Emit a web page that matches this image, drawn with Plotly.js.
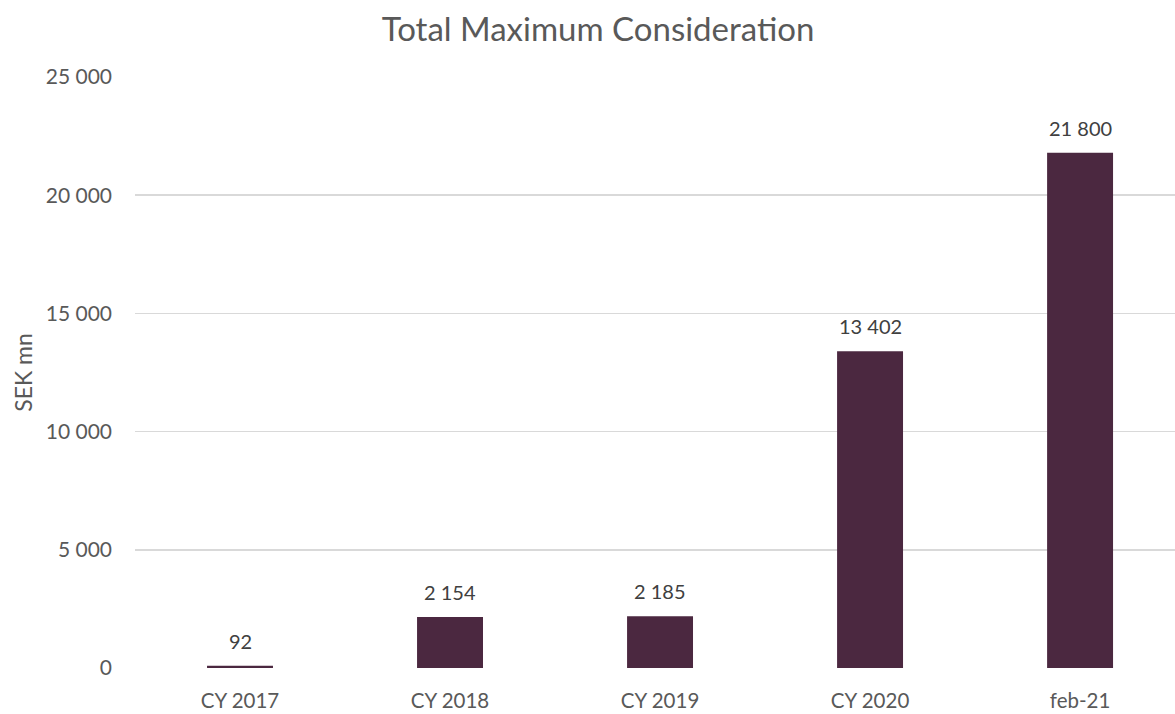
<!DOCTYPE html>
<html>
<head>
<meta charset="utf-8">
<script src="https://cdn.plot.ly/plotly-3.0.1.min.js"></script>
<style>html,body{margin:0;padding:0;background:#fff;}#chart{width:1175px;height:714px;}</style>
</head>
<body>
<div id="chart"></div>
<script>
const categories = ["CY 2017", "CY 2018", "CY 2019", "CY 2020", "feb-21"];
const values = [92, 2154, 2185, 13402, 21800];
const yTicks = [0, 5000, 10000, 15000, 20000, 25000];

function fmt(v) {
  return String(v).replace(/\B(?=(\d{3})+(?!\d))/g, " ");
}

const FONT = "Lato, 'Open Sans', sans-serif";

const trace = {
  type: "bar",
  x: categories,
  y: values,
  marker: { color: "#4B2840" },
  hoverinfo: "none"
};

const annotations = categories.map((c, i) => ({
  x: c, y: values[i], xref: "x", yref: "y",
  text: fmt(values[i]), showarrow: false,
  yanchor: "bottom", yshift: 11,
  font: { family: FONT, size: 20, color: "#404040" }
}));

const layout = {
  width: 1175, height: 714,
  margin: { l: 135, r: 0, t: 77, b: 46 },
  paper_bgcolor: "#ffffff", plot_bgcolor: "#ffffff",
  separators: ". ",
  bargap: 0.686,
  showlegend: false,
  title: {
    text: "Total Maximum Consideration",
    x: 0.509, xref: "container", xanchor: "center",
    y: 0.959, yref: "container", yanchor: "middle",
    font: { family: FONT, size: 33, color: "#595959" }
  },
  xaxis: {
    type: "category",
    range: [-0.5, 4.452],
    showgrid: false, zeroline: false, showline: false,
    ticks: "",
    tickfont: { family: FONT, size: 20.5, color: "#595959" },
    ticklabelstandoff: 18
  },
  yaxis: {
    range: [0, 25000],
    tickvals: yTicks,
    ticktext: yTicks.map(fmt),
    showgrid: true, gridcolor: "#D9D9D9", gridwidth: 1.5,
    zeroline: false, showline: false, ticks: "",
    tickfont: { family: FONT, size: 21, color: "#595959" },
    ticklabelstandoff: 22,
    title: {
      text: "SEK mn", standoff: 6,
      font: { family: FONT, size: 23, color: "#595959" }
    }
  },
  annotations: annotations
};

Plotly.newPlot("chart", [trace], layout, { staticPlot: true, displayModeBar: false });
</script>
</body>
</html>
